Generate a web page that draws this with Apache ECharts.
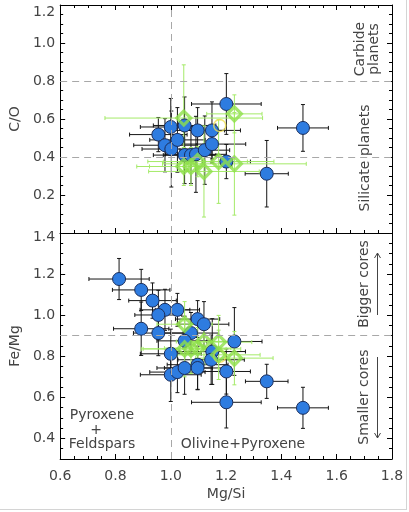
<!DOCTYPE html>
<html>
<head>
<meta charset="utf-8">
<script src="https://cdn.jsdelivr.net/npm/echarts@6/dist/echarts.min.js"></script>
<style>
html, body { margin: 0; padding: 0; background: #fff; }
#main { width: 409px; height: 512px; }
</style>
</head>
<body>
<div id="main"></div>
<script>
// ---- top panel: C/O vs Mg/Si ----
var coBlueX    = [0.955, 0.979, 1.002, 1.000, 1.024, 1.050, 1.050, 1.073, 1.097, 1.091, 1.123, 1.149, 1.149, 1.201, 1.201, 1.347, 1.478];
var coBlueY    = [0.518, 0.462, 0.442, 0.558, 0.490, 0.566, 0.410, 0.410, 0.540, 0.414, 0.436, 0.540, 0.468, 0.679, 0.376, 0.312, 0.553];
var coBlueXErr = [0.104, 0.113, 0.106, 0.110, 0.100, 0.113, 0.113, 0.100, 0.097, 0.110, 0.090, 0.103, 0.122, 0.126, 0.087, 0.078, 0.092];
var coBlueYErr = [0.090, 0.140, 0.200, 0.150, 0.170, 0.150, 0.150, 0.150, 0.120, 0.200, 0.180, 0.150, 0.100, 0.160, 0.090, 0.175, 0.123];

var coGreenX    = [1.047, 1.230, 1.047, 1.073, 1.097, 1.120, 1.173, 1.230];
var coGreenY    = [0.605, 0.627, 0.350, 0.350, 0.376, 0.324, 0.376, 0.364];
var coGreenXErr = [0.285, 0.100, 0.170, 0.150, 0.180, 0.200, 0.200, 0.260];
var coGreenYErr = [0.280, 0.100, 0.100, 0.100, 0.080, 0.240, 0.220, 0.270];

var coYellowX = [1.177];
var coYellowY = [0.566];

// ---- bottom panel: Fe/Mg vs Mg/Si ----
var feBlueX    = [0.813, 0.893, 0.934, 0.979, 0.955, 1.024, 0.893, 0.955, 1.097, 1.120, 1.073, 1.050, 1.230, 1.000, 1.150, 1.146, 1.000, 1.024, 1.050, 1.097, 1.097, 1.201, 1.347, 1.201, 1.478];
var feBlueY    = [1.176, 1.123, 1.071, 1.026, 1.001, 1.026, 0.934, 0.913, 0.981, 0.956, 0.913, 0.875, 0.872, 0.812, 0.823, 0.783, 0.710, 0.723, 0.743, 0.759, 0.743, 0.726, 0.678, 0.576, 0.549];
var feBlueXErr = [0.109, 0.104, 0.086, 0.090, 0.085, 0.080, 0.100, 0.090, 0.080, 0.090, 0.100, 0.100, 0.100, 0.110, 0.120, 0.120, 0.110, 0.100, 0.100, 0.110, 0.120, 0.087, 0.077, 0.126, 0.092];
var feBlueYErr = [0.100, 0.100, 0.086, 0.100, 0.120, 0.080, 0.130, 0.110, 0.090, 0.110, 0.100, 0.120, 0.165, 0.120, 0.160, 0.120, 0.130, 0.100, 0.128, 0.120, 0.106, 0.110, 0.083, 0.125, 0.100];

var feGreenX    = [1.050, 1.050, 1.073, 1.097, 1.120, 1.173, 1.173, 1.230];
var feGreenY    = [0.956, 0.836, 0.836, 0.840, 0.872, 0.869, 0.807, 0.791];
var feGreenXErr = [0.100, 0.150, 0.180, 0.120, 0.100, 0.120, 0.150, 0.140];
var feGreenYErr = [0.110, 0.136, 0.120, 0.100, 0.110, 0.130, 0.120, 0.130];

var feYellowX = [1.177];
var feYellowY = [0.800];

var majorY2 = [0.4, 0.6, 0.8, 1.0, 1.2, 1.4];

function zip() {
    var cols = Array.prototype.slice.call(arguments);
    return cols[0].map(function (v, i) {
        return cols.map(function (c) { return c[i]; });
    });
}

function errRender(color) {
    return function (params, api) {
        var x = api.value(0), y = api.value(1), ex = api.value(2), ey = api.value(3);
        var l = api.coord([x - ex, y]), r = api.coord([x + ex, y]);
        var t = api.coord([x, y + ey]), b = api.coord([x, y - ey]);
        var c = 2;
        function seg(x1, y1, x2, y2) {
            return { type: 'line', shape: { x1: x1, y1: y1, x2: x2, y2: y2 },
                     style: { stroke: color, lineWidth: 1 } };
        }
        return {
            type: 'group',
            children: [
                seg(l[0], l[1], r[0], r[1]),
                seg(t[0], t[1], b[0], b[1]),
                seg(l[0], l[1] - c, l[0], l[1] + c),
                seg(r[0], r[1] - c, r[0], r[1] + c),
                seg(t[0] - c, t[1], t[0] + c, t[1]),
                seg(b[0] - c, b[1], b[0] + c, b[1])
            ]
        };
    };
}

var font = 'DejaVu Sans';
var txtColor = '#444';
var blk = { color: '#000', width: 1 };

function xAx(grid, pos, labels, ticks) {
    return {
        type: 'value', gridIndex: grid, position: pos,
        min: 0.6, max: 1.8, interval: 0.2,
        axisLine: { show: true, onZero: false, lineStyle: blk },
        axisTick: { show: ticks, inside: true, length: 5, lineStyle: blk },
        minorTick: { show: ticks, splitNumber: 4, length: 3, lineStyle: blk },
        axisLabel: { show: labels, margin: 10, fontFamily: font, fontSize: 14, color: txtColor,
                     formatter: function (v) { return v.toFixed(1); } },
        splitLine: { show: false }
    };
}

var option = {
    animation: false,
    backgroundColor: '#fff',
    grid: [
        { left: 53, right: 17, top: 5, height: 228 },
        { left: 53, right: 17, top: 233, height: 226 }
    ],
    xAxis: [
        xAx(0, 'bottom', false, true),
        xAx(0, 'top', false, true),
        Object.assign(xAx(1, 'bottom', true, true), {
            name: 'Mg/Si', nameLocation: 'middle', nameGap: 28,
            nameTextStyle: { fontFamily: font, fontSize: 14, color: txtColor }
        }),
        xAx(1, 'top', false, false)
    ],
    yAxis: [
        {
            type: 'value', gridIndex: 0, position: 'left',
            min: 0, max: 1.2, interval: 0.2,
            name: 'C/O', nameLocation: 'middle', nameGap: 33,
            nameTextStyle: { fontFamily: font, fontSize: 14, color: txtColor },
            axisLine: { show: true, onZero: false, lineStyle: blk },
            axisTick: { inside: true, length: 5, lineStyle: blk },
            minorTick: { show: true, splitNumber: 4, length: 3, lineStyle: blk },
            axisLabel: {
                margin: 5, fontFamily: font, fontSize: 14, color: txtColor,
                formatter: function (v) {
                    if (v < 0.01) return '';
                    if (v > 1.19) return '{t|' + v.toFixed(1) + '}';
                    return v.toFixed(1);
                },
                rich: { t: { fontFamily: font, fontSize: 14, color: txtColor, padding: [14, 0, 0, 0] } }
            },
            splitLine: { show: false }
        },
        {
            type: 'value', gridIndex: 0, position: 'right',
            min: 0, max: 1.2, interval: 0.2,
            axisLine: { show: true, onZero: false, lineStyle: blk },
            axisTick: { inside: true, length: 5, lineStyle: blk },
            minorTick: { show: true, splitNumber: 4, length: 3, lineStyle: blk },
            axisLabel: { show: false },
            splitLine: { show: false }
        },
        {
            type: 'value', gridIndex: 1, position: 'left',
            min: 0.3, max: 1.4,
            name: 'Fe/Mg', nameLocation: 'middle', nameGap: 33,
            nameTextStyle: { fontFamily: font, fontSize: 14, color: txtColor },
            axisLine: { show: true, onZero: false, lineStyle: blk },
            axisTick: { inside: true, length: 5, lineStyle: blk, customValues: majorY2 },
            axisLabel: {
                margin: 5, fontFamily: font, fontSize: 14, color: txtColor,
                customValues: majorY2,
                formatter: function (v) {
                    if (v > 1.39) return '{t|' + v.toFixed(1) + '}';
                    return v.toFixed(1);
                },
                rich: { t: { fontFamily: font, fontSize: 14, color: txtColor, padding: [8, 0, 0, 0] } }
            },
            splitLine: { show: false }
        },
        {
            type: 'value', gridIndex: 1, position: 'left',
            min: 0.3, max: 1.4, interval: 0.05,
            axisLine: { show: false },
            axisTick: { inside: true, length: 3, lineStyle: blk },
            axisLabel: { show: false },
            splitLine: { show: false }
        },
        {
            type: 'value', gridIndex: 1, position: 'right',
            min: 0.3, max: 1.4,
            axisLine: { show: true, onZero: false, lineStyle: blk },
            axisTick: { inside: true, length: 5, lineStyle: blk, customValues: majorY2 },
            axisLabel: { show: false },
            splitLine: { show: false }
        },
        {
            type: 'value', gridIndex: 1, position: 'right',
            min: 0.3, max: 1.4, interval: 0.05,
            axisLine: { show: false },
            axisTick: { inside: true, length: 3, lineStyle: blk },
            axisLabel: { show: false },
            splitLine: { show: false }
        }
    ],
    series: [
        {
            type: 'custom', xAxisIndex: 0, yAxisIndex: 0,
            renderItem: errRender('#151515'),
            encode: { x: 0, y: 1 },
            data: zip(coBlueX, coBlueY, coBlueXErr, coBlueYErr),
            markLine: {
                silent: true, symbol: 'none', label: { show: false },
                lineStyle: { color: '#a8a8a8', width: 1, type: [7, 5] },
                data: [{ xAxis: 1.0 }, { yAxis: 0.4 }, { yAxis: 0.8 }]
            }
        },
        {
            type: 'scatter', xAxisIndex: 0, yAxisIndex: 0,
            symbol: 'circle', symbolSize: 13,
            itemStyle: { color: '#2e7ce0', borderColor: '#1b2d5a', borderWidth: 1, opacity: 1 },
            data: zip(coBlueX, coBlueY)
        },
        {
            type: 'scatter', xAxisIndex: 0, yAxisIndex: 0,
            symbol: 'circle', symbolSize: 12,
            itemStyle: { color: 'rgba(0,0,0,0)', borderColor: '#f0e050', borderWidth: 1.5 },
            data: zip(coYellowX, coYellowY)
        },
        {
            type: 'custom', xAxisIndex: 0, yAxisIndex: 0,
            renderItem: errRender('#a4ea68'),
            encode: { x: 0, y: 1 },
            data: zip(coGreenX, coGreenY, coGreenXErr, coGreenYErr)
        },
        {
            type: 'scatter', xAxisIndex: 0, yAxisIndex: 0,
            symbol: 'diamond', symbolSize: 14,
            itemStyle: { color: 'rgba(0,0,0,0)', borderColor: '#8ee04a', borderWidth: 3.2 },
            data: zip(coGreenX, coGreenY)
        },
        {
            type: 'custom', xAxisIndex: 2, yAxisIndex: 2,
            renderItem: errRender('#151515'),
            encode: { x: 0, y: 1 },
            data: zip(feBlueX, feBlueY, feBlueXErr, feBlueYErr),
            markLine: {
                silent: true, symbol: 'none', label: { show: false },
                lineStyle: { color: '#a8a8a8', width: 1, type: [7, 5] },
                data: [{ xAxis: 1.0 }, { yAxis: 0.9 }]
            }
        },
        {
            type: 'scatter', xAxisIndex: 2, yAxisIndex: 2,
            symbol: 'circle', symbolSize: 13,
            itemStyle: { color: '#2e7ce0', borderColor: '#1b2d5a', borderWidth: 1, opacity: 1 },
            data: zip(feBlueX, feBlueY)
        },
        {
            type: 'scatter', xAxisIndex: 2, yAxisIndex: 2,
            symbol: 'circle', symbolSize: 12,
            itemStyle: { color: 'rgba(0,0,0,0)', borderColor: '#f0e050', borderWidth: 1.5 },
            data: zip(feYellowX, feYellowY)
        },
        {
            type: 'custom', xAxisIndex: 2, yAxisIndex: 2,
            renderItem: errRender('#a4ea68'),
            encode: { x: 0, y: 1 },
            data: zip(feGreenX, feGreenY, feGreenXErr, feGreenYErr)
        },
        {
            type: 'scatter', xAxisIndex: 2, yAxisIndex: 2,
            symbol: 'diamond', symbolSize: 14,
            itemStyle: { color: 'rgba(0,0,0,0)', borderColor: '#8ee04a', borderWidth: 3.2 },
            data: zip(feGreenX, feGreenY)
        }
    ],
    graphic: [
        { type: 'text', x: 367, y: 49, rotation: Math.PI / 2,
          style: { text: 'Carbide\nplanets', align: 'center', verticalAlign: 'middle', lineHeight: 14,
                   font: '14px "DejaVu Sans"', fill: txtColor } },
        { type: 'text', x: 365, y: 158, rotation: Math.PI / 2,
          style: { text: 'Silicate planets', align: 'center', verticalAlign: 'middle',
                   font: '14px "DejaVu Sans"', fill: txtColor } },
        { type: 'text', x: 364, y: 284, rotation: Math.PI / 2,
          style: { text: 'Bigger cores', align: 'center', verticalAlign: 'middle',
                   font: '14px "DejaVu Sans"', fill: txtColor } },
        { type: 'text', x: 364, y: 397, rotation: Math.PI / 2,
          style: { text: 'Smaller cores', align: 'center', verticalAlign: 'middle',
                   font: '14px "DejaVu Sans"', fill: txtColor } },
        // arrows next to the core labels
        { type: 'polyline', shape: { points: [[377.5, 315], [377.5, 253]] }, style: { stroke: '#444', lineWidth: 1 } },
        { type: 'polyline', shape: { points: [[374.5, 258], [377.5, 253], [380.5, 258]] }, style: { stroke: '#444', lineWidth: 1, fill: null } },
        { type: 'polyline', shape: { points: [[377.5, 357], [377.5, 438]] }, style: { stroke: '#444', lineWidth: 1 } },
        { type: 'polyline', shape: { points: [[374.5, 433], [377.5, 438], [380.5, 433]] }, style: { stroke: '#444', lineWidth: 1, fill: null } },
        { type: 'text', x: 102, y: 415,
          style: { text: 'Pyroxene', align: 'center', verticalAlign: 'middle', font: '14px "DejaVu Sans"', fill: txtColor } },
        { type: 'text', x: 96, y: 430,
          style: { text: '+', align: 'center', verticalAlign: 'middle', font: '14px "DejaVu Sans"', fill: txtColor } },
        { type: 'text', x: 102, y: 444,
          style: { text: 'Feldspars', align: 'center', verticalAlign: 'middle', font: '14px "DejaVu Sans"', fill: txtColor } },
        { type: 'text', x: 243, y: 444,
          style: { text: 'Olivine+Pyroxene', align: 'center', verticalAlign: 'middle', font: '14px "DejaVu Sans"', fill: txtColor } },
        // faint border of the original picture
        { type: 'line', shape: { x1: 406.5, y1: 0, x2: 406.5, y2: 510 }, style: { stroke: '#d4d4d4', lineWidth: 1 } },
        { type: 'line', shape: { x1: 0, y1: 509.5, x2: 407, y2: 509.5 }, style: { stroke: '#d4d4d4', lineWidth: 1 } }
    ]
};

var chart = echarts.init(document.getElementById('main'));
chart.setOption(option);
</script>
</body>
</html>
